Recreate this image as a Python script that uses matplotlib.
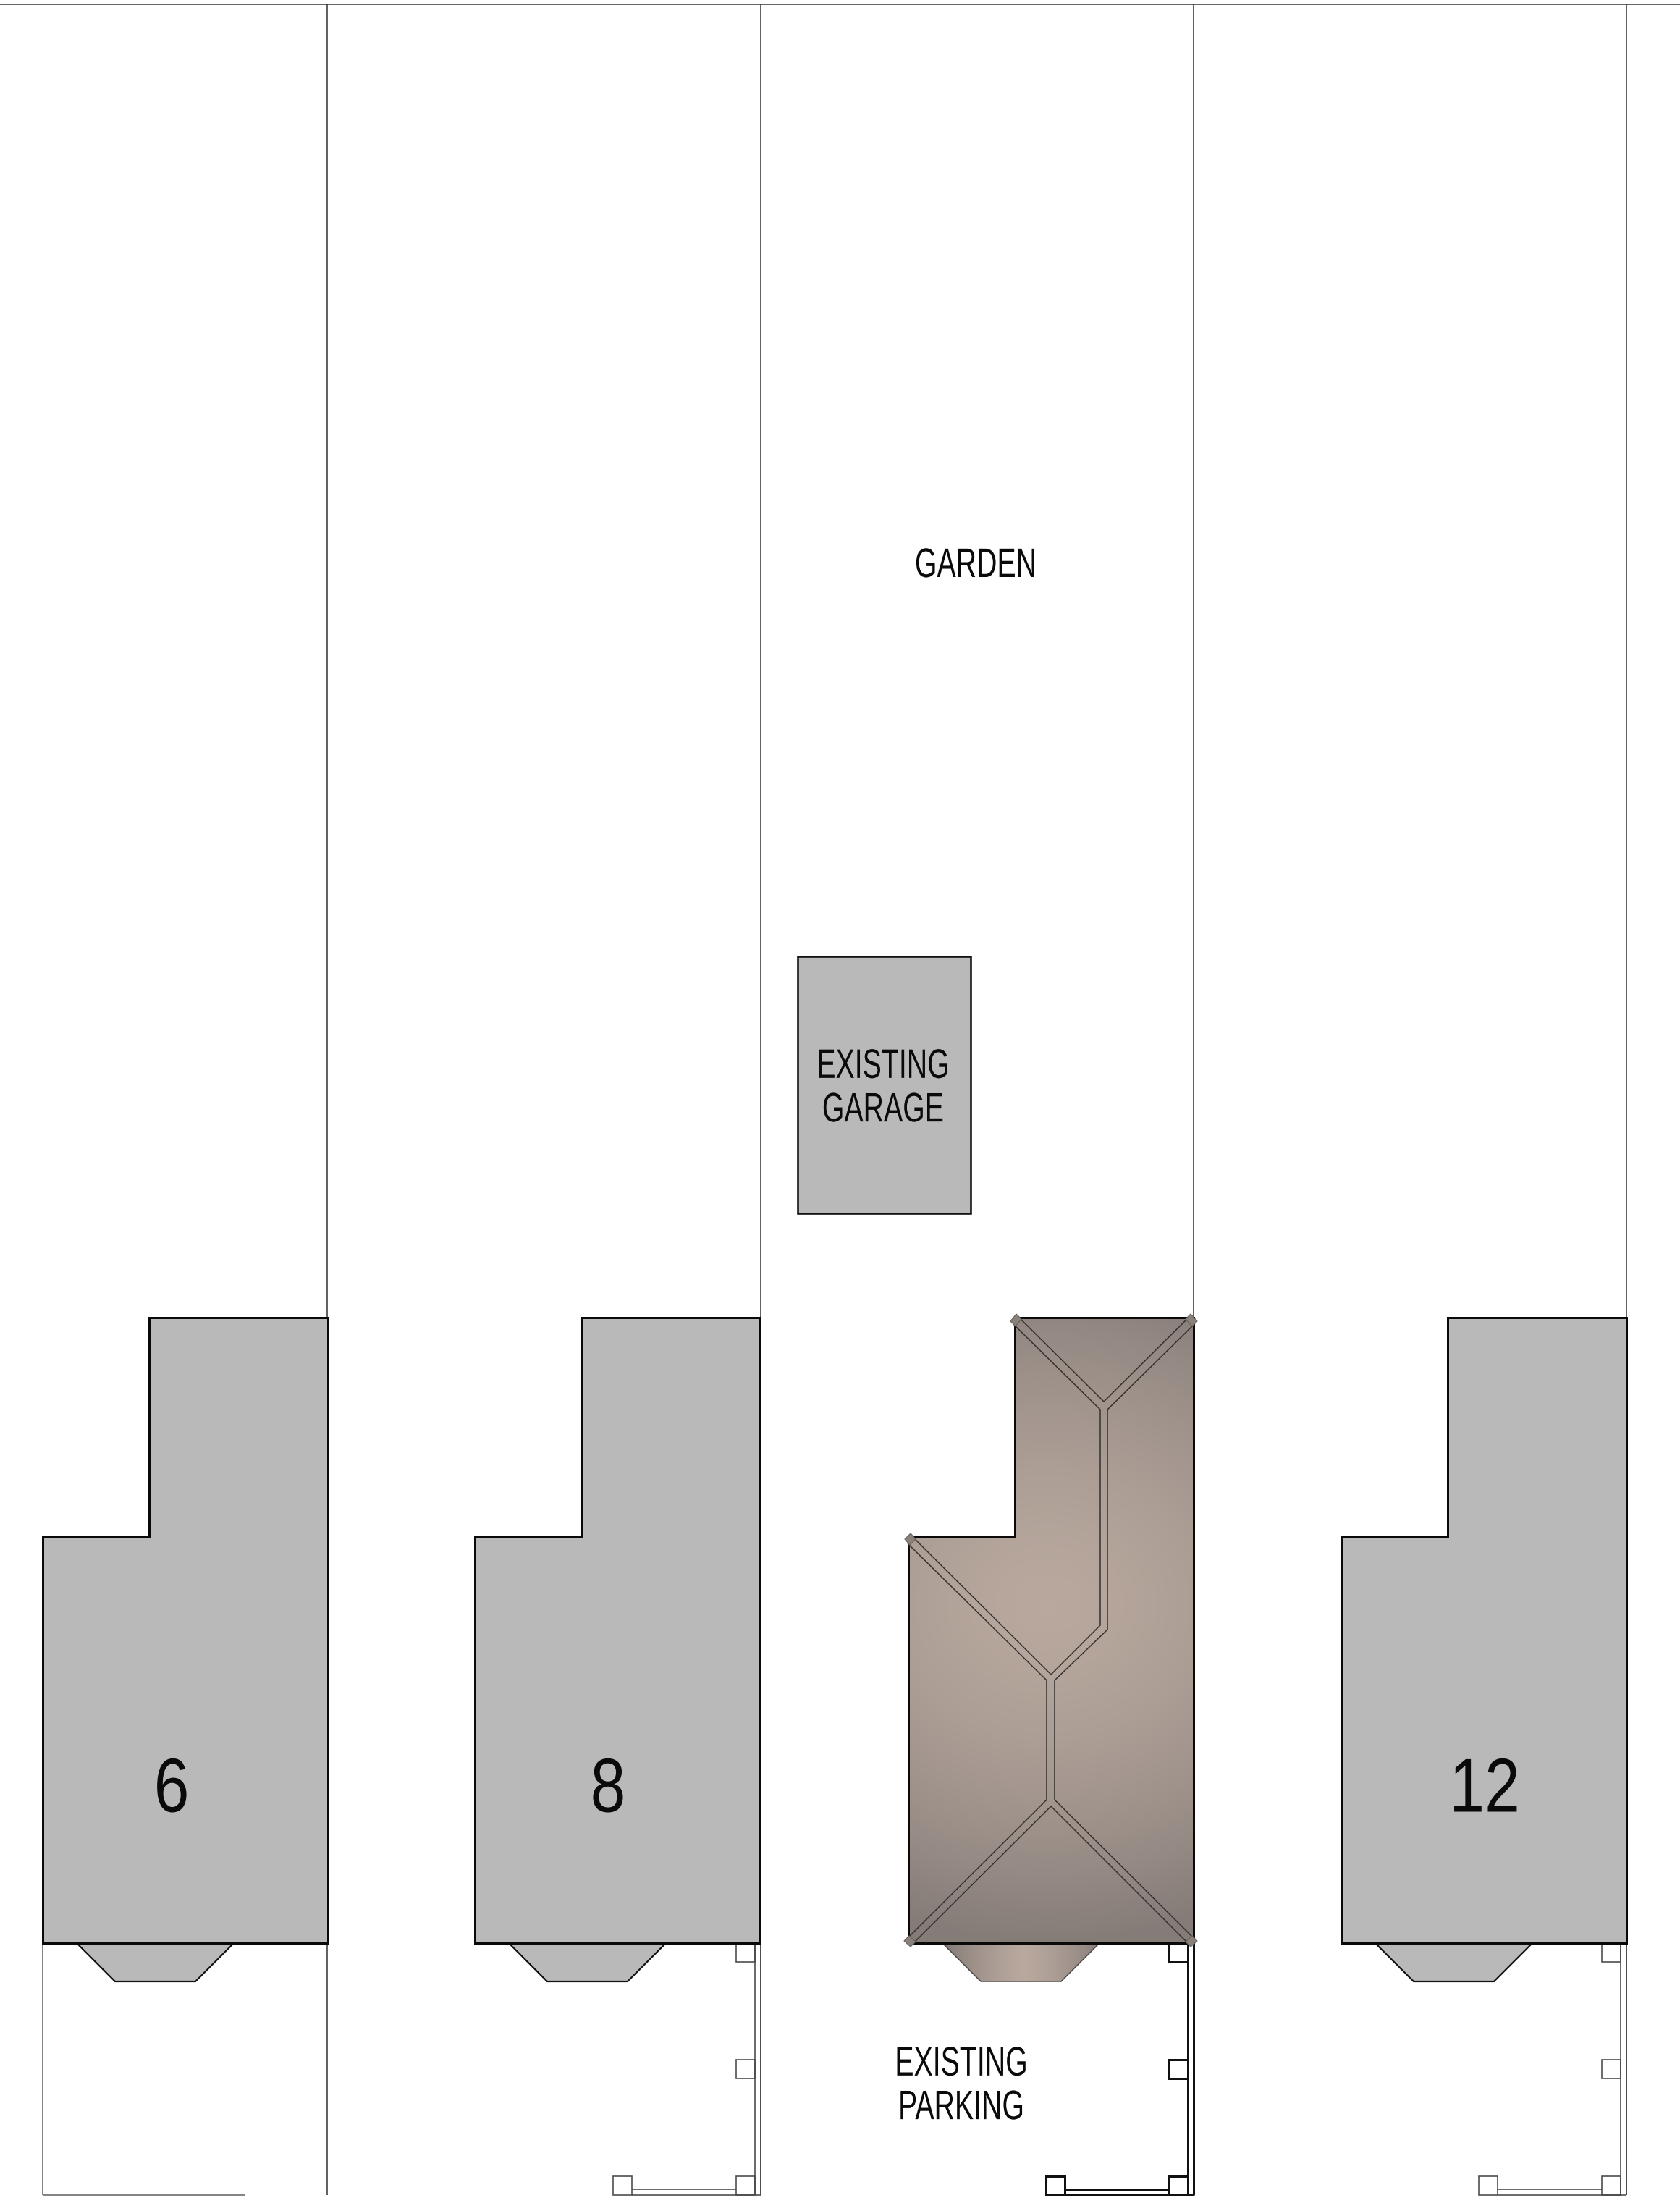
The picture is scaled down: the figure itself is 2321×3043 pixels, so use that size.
import numpy as np
import matplotlib
matplotlib.use("Agg")
import matplotlib.pyplot as plt
from matplotlib.patches import Polygon, Rectangle
from matplotlib.colors import LinearSegmentedColormap
from matplotlib.patheffects import AbstractPathEffect, withStroke
from matplotlib.transforms import Affine2D

# ---- plan data (pixel-scale site units, y measured downward) ----
lot_lines_x = [452, 1051, 1649, 2247]
top_line_y = 6
bottom_y = 3032
house_numbers = ["6", "8", "12"]
house_shift = [0, 597, 1794]
number_x = [237, 840, 2051]
number_y = 2475
house_outline_x = [59, 59, 206, 206, 453, 453]
house_outline_y = [2684, 2122, 2122, 1820, 1820, 2684]
bay_x = [106, 159, 270, 323]
bay_y = [2684, 2737, 2737, 2684]
target_shift = 1196

garage_x = [1102, 1341]
garage_y = [1321, 1676]

post_size = 26
side_post_x = 1017
side_post_tops = [2684, 2845, 3006]
corner_post_x = 847
rail_x = [1043, 1051]
rail_y = 3024

ridge_lines = [
    ([1408, 1525], [1820, 1936]),
    ([1642, 1525], [1820, 1936]),
    ([1401, 1520, 1520, 1452], [1830, 1947, 2245, 2313]),
    ([1649, 1530, 1530, 1457, 1457, 1649], [1830, 1947, 2251, 2321, 2486, 2677]),
    ([1254, 1446, 1446, 1254], [2132, 2321, 2486, 2677]),
    ([1262, 1452], [2124, 2313]),
    ([1262, 1452, 1641], [2684, 2495, 2684]),
]
ridge_tips = [
    ([1404, 1396, 1403, 1411], [1815, 1825, 1832, 1822]),
    ([1645, 1654, 1647, 1638], [1815, 1825, 1832, 1822]),
    ([1258, 1250, 1257, 1265], [2118, 2126, 2134, 2126]),
    ([1249, 1258, 1265, 1256], [2681, 2689, 2682, 2674]),
    ([1654, 1645, 1638, 1647], [2681, 2689, 2682, 2674]),
]

labels = ["GARDEN", "EXISTING\nGARAGE", "EXISTING\nPARKING"]
label_x = [1348, 1220, 1328]
label_y = [782, 1504, 2882]

# ---- styles ----
GREY = "#b9b9b9"
DARK_ROOF = "#857c78"
LIGHT_ROOF = "#b8a89e"
LOT = "#3c3c3c"
FONT = "Liberation Sans"
roof_cmap = LinearSegmentedColormap.from_list("roof", [LIGHT_ROOF, DARK_ROOF])

fig = plt.figure(figsize=(23.21, 30.43), dpi=100, facecolor="white")
ax = fig.add_axes([0, 0, 1, 1])
ax.set_xlim(0, 2321)
ax.set_ylim(3043, 0)
ax.axis("off")

PX = 0.72  # one pixel in points


class Condense(AbstractPathEffect):
    """Narrows text about its anchor, standing in for a condensed typeface."""

    def __init__(self, anchor_x, factor):
        super().__init__()
        self.anchor_x = anchor_x
        self.factor = factor

    def draw_path(self, renderer, gc, tpath, affine, rgbFace=None):
        squeeze = Affine2D().translate(-self.anchor_x, 0).scale(self.factor, 1).translate(self.anchor_x, 0)
        renderer.draw_path(gc, tpath, affine + squeeze, rgbFace)


def narrow_text(x, y, s, size, factor, **kw):
    t = ax.text(x, y, s, family=FONT, fontsize=size, ha="center", va="center", color="#0a0a0a", **kw)
    t.set_path_effects([Condense(ax.transData.transform((x, y))[0], factor)])
    return t


def line(xs, ys, color=LOT, w=1.5, z=2):
    ax.plot(xs, ys, color=color, lw=w * PX, zorder=z, solid_capstyle="butt", solid_joinstyle="miter")


# lot boundaries
line([0, 2321], [top_line_y, top_line_y], "#666666", 2)
for x in lot_lines_x:
    line([x, x], [top_line_y, bottom_y], LOT, 1.6)

# left-most front fence
line([59, 59], [2684, bottom_y], "#666666", 1.6)
line([59, 339], [bottom_y, bottom_y], "#666666", 1.6)


def fence(dx, color, w):
    for top in side_post_tops:
        ax.add_patch(Rectangle((side_post_x + dx, top), post_size, post_size, fc="white", ec=color,
                               lw=w * PX, zorder=3))
    ax.add_patch(Rectangle((corner_post_x + dx, side_post_tops[-1]), post_size, post_size, fc="white",
                           ec=color, lw=w * PX, zorder=3))
    for rx in rail_x:
        line([rx + dx, rx + dx], [2684, bottom_y], color, w, 3)
    left = corner_post_x + post_size + dx
    right = side_post_x + dx
    line([left, right], [rail_y, rail_y], color, w, 3)
    line([left, rail_x[1] + dx], [bottom_y, bottom_y], color, w, 3)


fence(0, "#4a4a4a", 1.6)
fence(598, "#111111", 3)
fence(1196, "#4a4a4a", 1.6)

# neighbouring houses
for shift, num, nx in zip(house_shift, house_numbers, number_x):
    pts = np.column_stack([np.array(house_outline_x) + shift, house_outline_y])
    ax.add_patch(Polygon(np.column_stack([np.array(bay_x) + shift, bay_y]), closed=True, fc=GREY,
                         ec="#111111", lw=2.2 * PX, zorder=4))
    ax.add_patch(Polygon(pts, closed=True, fc=GREY, ec="#0a0a0a", lw=3 * PX, zorder=5, joinstyle="miter"))
    narrow_text(nx, number_y, num, 76, 0.83, zorder=6)

# the subject house, with shaded roof
tx = np.array(house_outline_x) + target_shift
roof = Polygon(np.column_stack([tx, house_outline_y]), closed=True, fc="none", ec="#0a0a0a",
               lw=3 * PX, zorder=7, joinstyle="miter")
ax.add_patch(roof)
gx, gy = np.meshgrid(np.arange(1240, 1660, 2.0), np.arange(1810, 2695, 2.0))
shade = np.clip(np.sqrt(((gx - 1445) / 520) ** 2 + ((gy - 2215) / 470) ** 2), 0, 1) ** 1.6
im = ax.imshow(shade, extent=[1240, 1660, 2695, 1810], cmap=roof_cmap, vmin=0, vmax=1, zorder=4,
               aspect="auto", interpolation="bilinear")
im.set_clip_path(Polygon(np.column_stack([tx, house_outline_y]), closed=True, transform=ax.transData))

bx = np.array(bay_x) + target_shift
bay_pts = np.column_stack([bx, bay_y])
gx2, gy2 = np.meshgrid(np.arange(1295, 1530, 2.0), np.arange(2680, 2742, 2.0))
shade2 = np.clip(np.abs(gx2 - 1415) / 110, 0, 1) ** 1.4
im2 = ax.imshow(shade2, extent=[1295, 1530, 2742, 2680], cmap=roof_cmap, vmin=0, vmax=1, zorder=4,
                aspect="auto", interpolation="bilinear")
im2.set_clip_path(Polygon(bay_pts, closed=True, transform=ax.transData))
ax.add_patch(Polygon(bay_pts, closed=True, fc="none", ec="#4a4642", lw=1.5 * PX, zorder=5))

for xs, ys in ridge_lines:
    line(xs, ys, "#33302e", 1.5, 8)
for xs, ys in ridge_tips:
    ax.add_patch(Polygon(np.column_stack([xs, ys]), closed=True, fc="#8a817b", ec="#6a6460",
                         lw=1.2 * PX, zorder=9))

# garage
ax.add_patch(Rectangle((garage_x[0], garage_y[0]), garage_x[1] - garage_x[0], garage_y[1] - garage_y[0],
                       fc=GREY, ec="#111111", lw=2.6 * PX, zorder=5))

for s, x, y in zip(labels, label_x, label_y):
    narrow_text(x, y, s, 41, 0.69, linespacing=1.15, zorder=10)

ax.set_xlim(0, 2321)
ax.set_ylim(3043, 0)
fig.savefig("out.png", dpi=100, facecolor="white")
